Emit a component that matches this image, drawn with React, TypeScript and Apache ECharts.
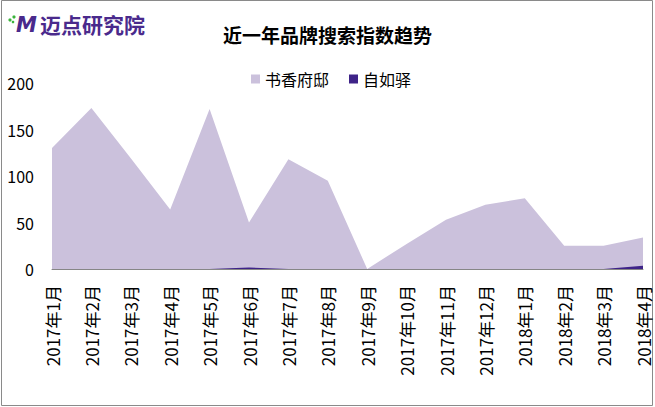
import React, { useEffect, useRef } from "react";
import * as echarts from "echarts";

const categories = [
  "2017年1月", "2017年2月", "2017年3月", "2017年4月", "2017年5月", "2017年6月",
  "2017年7月", "2017年8月", "2017年9月", "2017年10月", "2017年11月", "2017年12月",
  "2018年1月", "2018年2月", "2018年3月", "2018年4月",
];
const shuxiang = [130, 173, 119, 64, 172, 50, 118, 95, 0, 27, 53, 69, 76, 25, 25, 34];
const ziruyi = [0, 0, 0, 0, 0, 1.5, 0, 0, 0, 0, 0, 0, 0, 0, 0, 3.5];
const seriesNames = ["书香府邸", "自如驿"];
const titleText = "近一年品牌搜索指数趋势";

const FONT = "'Noto Sans CJK SC', 'Noto Sans', sans-serif";

export default function App() {
  const ref = useRef<HTMLDivElement>(null);
  useEffect(() => {
    document.body.style.margin = "0";
    const chart = echarts.init(ref.current!, undefined, { renderer: "svg" });
    chart.setOption({
      animation: false,
      backgroundColor: "#ffffff",
      textStyle: { fontFamily: FONT },
      title: {
        text: titleText,
        left: "center",
        top: 20,
        textStyle: { fontSize: 19, fontWeight: "bold", color: "#000", fontFamily: FONT },
      },
      legend: {
        top: 66,
        left: 246,
        itemWidth: 9,
        itemHeight: 9,
        itemGap: 20,
        icon: "rect",
        textStyle: { fontSize: 16, color: "#000", fontFamily: FONT },
        data: seriesNames,
      },
      grid: { left: 52, right: 12, top: 83, bottom: 138 },
      xAxis: {
        type: "category",
        data: categories,
        boundaryGap: false,
        axisLine: { show: true, lineStyle: { color: "#868686", width: 1 } },
        axisTick: { show: false },
        axisLabel: {
          rotate: 90,
          interval: 0,
          margin: 16,
          fontSize: 17,
          color: "#000",
          fontFamily: FONT,
        },
        splitLine: { show: false },
      },
      yAxis: {
        type: "value",
        min: 0,
        max: 200,
        interval: 50,
        axisLine: { show: false },
        axisTick: { show: false },
        splitLine: { show: false },
        axisLabel: { fontSize: 16, color: "#000", margin: 18, fontFamily: FONT },
      },
      series: [
        {
          name: seriesNames[0],
          type: "line",
          data: shuxiang,
          symbol: "none",
          lineStyle: { width: 0 },
          itemStyle: { color: "#CBC1DC" },
          areaStyle: { color: "#CBC1DC", opacity: 1 },
        },
        {
          name: seriesNames[1],
          type: "line",
          data: ziruyi,
          symbol: "none",
          lineStyle: { width: 0 },
          itemStyle: { color: "#3E2388" },
          areaStyle: { color: "#3E2388", opacity: 1 },
        },
      ],
      graphic: [
        {
          type: "rect",
          shape: { x: 1.5, y: 0.5, width: 651, height: 405 },
          style: { fill: "none", stroke: "#8a8a8a", lineWidth: 1 },
          silent: true,
        },
        { type: "circle", shape: { cx: 10, cy: 20, r: 1.6 }, style: { fill: "#3cb43c" } },
        { type: "circle", shape: { cx: 14, cy: 17, r: 1.6 }, style: { fill: "#3cb43c" } },
        { type: "circle", shape: { cx: 13, cy: 22, r: 1.3 }, style: { fill: "#3cb43c" } },
        {
          type: "text",
          x: 16,
          y: 14,
          style: {
            text: "M",
            font: "italic bold 21px 'DejaVu Sans', sans-serif",
            fill: "#4a2a8c",
          },
        },
        {
          type: "text",
          x: 40,
          y: 13,
          style: {
            text: "迈点研究院",
            font: "bold 21px 'Noto Sans CJK SC', sans-serif",
            fill: "#4a2a8c",
          },
        },
      ],
    });
    return () => chart.dispose();
  }, []);
  return <div ref={ref} style={{ width: 655, height: 407 }} />;
}
